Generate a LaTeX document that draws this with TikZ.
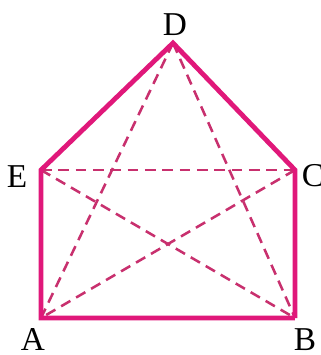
\documentclass[tikz,border=0pt]{standalone}
\usepackage{fontspec}
\setmainfont{Liberation Serif}
\definecolor{mag}{HTML}{E0187A}
\definecolor{dmag}{HTML}{C8306E}
\begin{document}
\begin{tikzpicture}[x=0.75pt,y=-0.75pt,
  solidedge/.style={draw=mag,line width=3.6pt,line join=miter},
  dashedge/.style={draw=dmag,line width=1.9pt,dash pattern=on 8pt off 5pt},
  lbl/.style={font=\fontsize{25}{29}\selectfont,inner sep=0pt}]
\useasboundingbox (0,0) rectangle (321,355);
\coordinate (D) at (173,43);
\coordinate (E) at (41,170);
\coordinate (C) at (295,170);
\coordinate (A) at (41,318);
\coordinate (B) at (295,318);
\draw[dashedge] (E) -- (C);
\draw[dashedge] (D) -- (A);
\draw[dashedge] (D) -- (B);
\draw[dashedge] (E) -- (B);
\draw[dashedge] (C) -- (A);
\draw[solidedge] (B) -- (A) -- (E) -- (D) -- (C) -- (B);
\node[lbl] (lD) at (175,25) {D};
\node[lbl] (lE) at (17,177) {E};
\node[lbl] (lC) at (313,176) {C};
\node[lbl] (lA) at (33,339) {A};
\node[lbl] (lB) at (305,340) {B};
\end{tikzpicture}
\end{document}
